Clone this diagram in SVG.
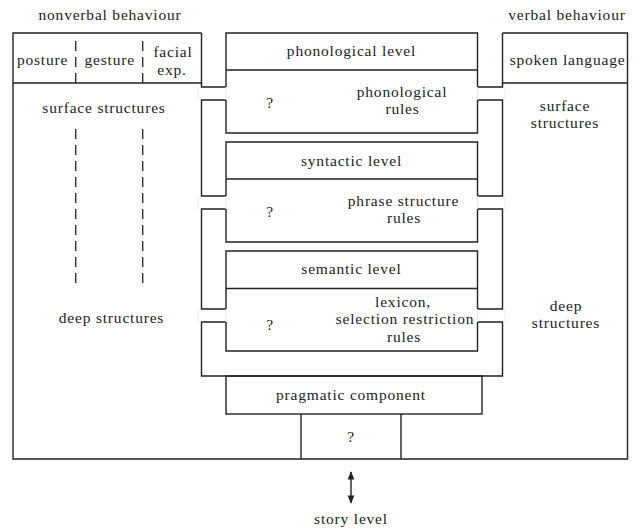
<svg xmlns="http://www.w3.org/2000/svg" width="640" height="529" viewBox="0 0 640 529">
<defs>
<style>
.ln{fill:none;stroke:#222;stroke-width:1.4}
.dash{fill:none;stroke:#222;stroke-width:1.3;stroke-dasharray:10 6}
.faint{fill:none;stroke:#e8e8e8;stroke-width:1}
.t{font-family:'Liberation Serif','DejaVu Serif',serif;font-size:15.5px;fill:#222;text-anchor:middle;letter-spacing:0.8px}
</style>
<marker id="ah" viewBox="0 0 10 10" refX="9" refY="5" markerWidth="6" markerHeight="6" orient="auto-start-reverse">
<path d="M0,1 L10,5 L0,9 z" fill="#222"/>
</marker>
</defs>
<rect width="640" height="529" fill="#fff"/>

<g id="connectors">
<path class="ln" d="M201.5,33 V87 H226 M226,100 H201.5 V196 H226 M226,209 H201.5 V309 H226 M226,322 H201.5 V376 H502.5 V322 H477.5 M477.5,309 H502.5 V209 H477.5 M477.5,196 H502.5 V100 H477.5 M477.5,87 H502.5 V33"/>
<path class="faint" d="M198,87 V100 M226,87 V100 M198,196 V209 M226,196 V209 M198,309 V322 M226,309 V322 M477.5,87 V100 M505,87 V100 M477.5,196 V209 M505,196 V209 M477.5,309 V322 M505,309 V322"/>
<line class="ln" x1="351" y1="472" x2="351" y2="503" marker-start="url(#ah)" marker-end="url(#ah)"/>
</g>

<g id="outer">
<path class="ln" d="M201.5,33 H13 V459 H627.5 V33 H502.5"/>
<text class="t" font-family="Liberation Serif, serif" x="110" y="20">nonverbal behaviour</text>
<text class="t" font-family="Liberation Serif, serif" x="567" y="20">verbal behaviour</text>
</g>

<g id="nonverbal" font-family="Liberation Serif, serif">
<path class="ln" d="M13,83 H201.5"/>
<path class="dash" d="M75.7,41 V87 M142.7,41 V87 M75.7,129 V284 M142.7,129 V284"/>
<text class="t" x="42.5" y="65">posture</text>
<text class="t" x="109.7" y="65">gesture</text>
<text class="t" x="173" y="57">facial</text>
<text class="t" x="172" y="75">exp.</text>
<text class="t" x="104" y="113">surface structures</text>
<text class="t" x="111.5" y="323">deep structures</text>
</g>

<g id="verbal">
<path class="ln" d="M502.5,83 H627.5"/>
<text class="t" x="567.5" y="65">spoken language</text>
<text class="t" x="565" y="110.5">surface</text>
<text class="t" x="565" y="128">structures</text>
<text class="t" x="566" y="310.5">deep</text>
<text class="t" x="566" y="328">structures</text>
</g>

<g id="phonological">
<path class="ln" d="M226,87 V33 H477.5 V87 M477.5,100 V133 H226 V100 M226,70 H477.5"/>
<text class="t" x="351.5" y="56">phonological level</text>
<text class="t" x="270" y="108">?</text>
<text class="t" x="402" y="96.5">phonological</text>
<text class="t" x="402.5" y="114">rules</text>
</g>

<g id="syntactic">
<path class="ln" d="M226,196 V142 H477.5 V196 M477.5,209 V242 H226 V209 M226,179 H477.5"/>
<text class="t" x="351.5" y="166">syntactic level</text>
<text class="t" x="270" y="217">?</text>
<text class="t" x="403.5" y="205.5">phrase structure</text>
<text class="t" x="404" y="223">rules</text>
</g>

<g id="semantic">
<path class="ln" d="M226,309 V251 H477.5 V309 M477.5,322 V351 H226 V322 M226,288.5 H477.5"/>
<text class="t" x="351.5" y="274">semantic level</text>
<text class="t" x="270" y="330">?</text>
<text class="t" x="403" y="306.5">lexicon,</text>
<text class="t" x="405" y="324">selection restriction</text>
<text class="t" x="404" y="341.5">rules</text>
</g>

<g id="pragmatic">
<rect class="ln" x="226" y="376" width="256" height="38"/>
<text class="t" x="351" y="400">pragmatic component</text>
</g>

<g id="unknown">
<path class="ln" d="M301,414 V459 M401,414 V459"/>
<text class="t" x="351" y="442">?</text>
</g>

<g id="story">
<text class="t" x="351" y="524">story level</text>
</g>
</svg>
